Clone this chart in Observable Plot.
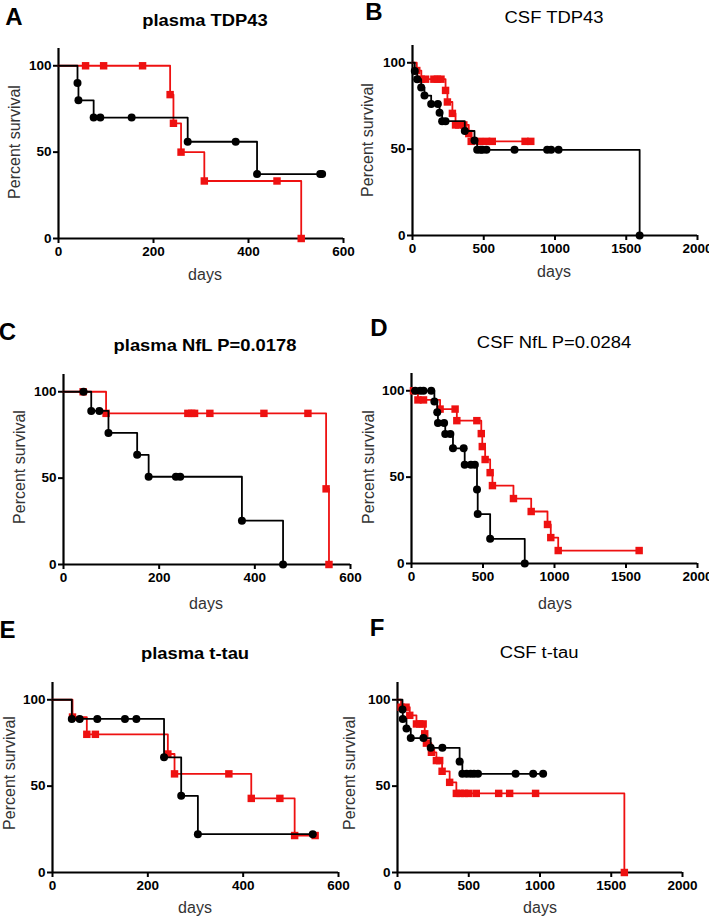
<!DOCTYPE html>
<html><head><meta charset="utf-8">
<script src="https://cdn.jsdelivr.net/npm/d3@7"></script>
<script src="https://cdn.jsdelivr.net/npm/@observablehq/plot@0.6"></script>
<style>
body{margin:0;background:#fff;}
#wrap{position:relative;width:709px;height:917px;overflow:hidden;font-family:"Liberation Sans",Arial,sans-serif;}
#wrap svg{position:absolute;background:transparent;}
.t{position:absolute;white-space:nowrap;line-height:1;transform-origin:center center;}
.letter{font-weight:bold;font-size:24px;color:#000;}
.title{font-size:17px;color:#000;}
.lab{font-size:16px;color:#333;}
</style></head>
<body><div id="wrap"></div>
<script>
// ---- data (days, percent survival at each plotted symbol) ----
const yTicks = [0, 50, 100];
const xTicksPlasma = [0, 200, 400, 600];
const xTicksCSF = [0, 500, 1000, 1500, 2000];
const panelLetters = ["A", "B", "C", "D", "E", "F"];
const panelTitles = ["plasma TDP43", "CSF TDP43", "plasma NfL P=0.0178", "CSF NfL P=0.0284", "plasma t-tau", "CSF t-tau"];
const xLabel = "days";
const yLabel = "Percent survival";

// A plasma TDP43
const aBlackT = [40, 42, 74, 88, 154, 272, 373, 418, 551, 555];
const aBlackS = [90, 80, 70, 70, 70, 56, 56, 37.3, 37.3, 37.3];
const aRedT = [57, 95, 177, 235, 242, 258, 307, 460, 511];
const aRedS = [100, 100, 100, 83.3, 66.7, 50, 33.3, 33.3, 0];
// B CSF TDP43
const bBlackT = [16, 33, 61, 84, 131, 178, 190, 208, 232, 367, 435, 454, 477, 491, 519, 716, 945, 973, 1025, 1594];
const bBlackS = [95.2, 90.5, 85.7, 81, 76.2, 76.2, 71.1, 66.2, 66.2, 60.5, 55, 49.6, 49.6, 49.6, 49.6, 49.6, 49.6, 49.6, 49.6, 0];
const bRedT = [30, 62, 92, 150, 175, 200, 232, 245, 280, 302, 325, 360, 395, 412, 470, 520, 560, 790, 830];
const bRedS = [95.5, 90.5, 90.5, 90.5, 90.5, 90.5, 84, 77.3, 70.7, 64, 64, 64, 59, 54.5, 54.5, 54.5, 54.5, 54.5, 54.5];
// C plasma NfL
const cBlackT = [42, 58, 75, 94, 154, 178, 235, 244, 373, 459];
const cBlackS = [100, 88.9, 88.9, 76.2, 63.5, 50.8, 50.8, 50.8, 25.4, 0];
const cRedT = [41, 89, 260, 268, 274, 306, 419, 511, 549, 555];
const cRedS = [100, 87.5, 87.5, 87.5, 87.5, 87.5, 87.5, 87.5, 43.8, 0];
// D CSF NfL
const dBlackT = [26, 61, 84, 138, 160, 180, 185, 228, 236, 272, 290, 365, 372, 415, 443, 458, 463, 550, 792];
const dBlackS = [100, 100, 100, 100, 93.8, 87.5, 81.3, 81.3, 75, 75, 66.7, 66.7, 57.1, 57.1, 57.1, 42.9, 28.6, 14.3, 0];
const dRedT = [14, 45, 84, 200, 305, 317, 457, 488, 495, 515, 550, 566, 713, 837, 951, 974, 1026, 1592];
const dRedS = [100, 94.7, 94.7, 89.4, 89.4, 82.7, 82.7, 75.2, 67.7, 60.2, 52.6, 45.1, 37.6, 30.1, 22.6, 15, 7.5, 7.5];
// E plasma t-tau
const eBlackT = [40.5, 57, 94, 152, 176, 234, 270, 305, 546];
const eBlackS = [88.9, 88.9, 88.9, 88.9, 88.9, 66.7, 44.4, 22.2, 22.2];
const eRedT = [42, 72, 90, 242, 256, 370, 417, 477, 508, 551];
const eRedS = [90, 80, 80, 68.6, 57.1, 57.1, 42.9, 42.9, 21.4, 21.4];
// F CSF t-tau
const fBlackT = [35, 37, 63, 93, 182, 233, 315, 436, 455, 485, 513, 537, 565, 829, 952, 1022];
const fBlackS = [94.4, 88.9, 83.3, 77.8, 77.8, 72.2, 72.2, 64.2, 57.1, 57.1, 57.1, 57.1, 57.1, 57.1, 57.1, 57.1];
const fRedT = [25, 60, 86, 133, 156, 180, 191, 203, 238, 273, 296, 313, 366, 413, 440, 470, 500, 553, 710, 787, 969, 1592];
const fRedS = [95.7, 95.7, 91, 86, 86, 86, 80.3, 74.9, 69.6, 64.8, 64.8, 58.6, 52.2, 45.8, 45.8, 45.8, 45.8, 45.8, 45.8, 45.8, 45.8, 0];

// ---- layout ----
const RED = "#ee1111";
const ML = 50, MR = 15, MT = 10, MB = 30, PH = 190;
const series = [
  [aBlackT, aBlackS, aRedT, aRedS], [bBlackT, bBlackS, bRedT, bRedS],
  [cBlackT, cBlackS, cRedT, cRedS], [dBlackT, dBlackS, dRedT, dRedS],
  [eBlackT, eBlackS, eRedT, eRedS], [fBlackT, fBlackS, fRedT, fRedS]
];
const layout = [
  {ax: 58, ay: 238, pw: 285, csf: false, letter: [14, 16.5], title: [205, 20], days: [205, 275], ylab: [15, 142]},
  {ax: 412, ay: 235, pw: 285, csf: true, letter: [374, 12], title: [554, 18], days: [554, 272], ylab: [368, 140]},
  {ax: 63, ay: 564, pw: 287, csf: false, letter: [7.5, 332], title: [205, 345], days: [206, 604], ylab: [20, 467]},
  {ax: 411, ay: 563, pw: 286, csf: true, letter: [379, 328], title: [554, 343], days: [555, 604], ylab: [369, 467]},
  {ax: 52, ay: 872, pw: 286, csf: false, letter: [7.5, 630], title: [195, 653], days: [195, 908], ylab: [10, 773]},
  {ax: 397, ay: 872, pw: 285, csf: true, letter: [377, 628], title: [539, 653], days: [540, 908], ylab: [350, 773]}
];

const wrap = document.getElementById("wrap");
function addText(txt, cls, [x, y], extra) {
  const d = document.createElement("div");
  d.className = "t " + cls;
  d.textContent = txt;
  d.style.left = x + "px"; d.style.top = y + "px";
  d.style.transform = "translate(-50%,-50%)" + (extra || "");
  wrap.appendChild(d);
  return d;
}

layout.forEach((L, i) => {
  const [bT, bS, rT, rS] = series[i];
  const pts = (T, S) => T.map((t, j) => ({t, s: S[j]}));
  const black = pts(bT, bS), red = pts(rT, rS);
  const start = {t: 0, s: 100};
  const xmax = L.csf ? xTicksCSF[xTicksCSF.length - 1] : xTicksPlasma[xTicksPlasma.length - 1];
  const svg = Plot.plot({
    width: ML + L.pw + MR, height: MT + PH + MB,
    marginLeft: ML, marginRight: MR, marginTop: MT, marginBottom: MB,
    x: {domain: [0, xmax]},
    y: {domain: [0, 110]},
    style: {fontFamily: "'Liberation Sans', Arial, sans-serif", color: "#000", background: "transparent", overflow: "visible"},
    marks: [
      Plot.axisY({ticks: yTicks, tickSize: 5, tickPadding: 2, tickFormat: "d", fontSize: 13.5, fontWeight: "bold", strokeWidth: 2, label: null}),
      Plot.axisX({ticks: L.csf ? xTicksCSF : xTicksPlasma, tickSize: 5, tickPadding: 3, tickFormat: "d", fontSize: 13.5, fontWeight: "bold", strokeWidth: 2, label: null}),
      Plot.ruleX([0], {strokeWidth: 2.2}),
      Plot.ruleY([0], {strokeWidth: 2.2}),
      Plot.line([start, ...red], {x: "t", y: "s", curve: "step-after", stroke: RED, strokeWidth: 1.8}),
      Plot.dot(red, {x: "t", y: "s", symbol: "square", r: 4.2, fill: RED, stroke: "none"}),
      Plot.line([start, ...black], {x: "t", y: "s", curve: "step-after", stroke: "#000", strokeWidth: 1.8}),
      Plot.dot(black, {x: "t", y: "s", r: 4, fill: "#000", stroke: "none"})
    ]
  });
  svg.style.left = (L.ax - ML) + "px";
  svg.style.top = (L.ay - PH - MT) + "px";
  wrap.appendChild(svg);

  addText(panelLetters[i], "letter", L.letter);
  const tt = addText(panelTitles[i], "title", L.title, L.csf ? " scaleX(1.15)" : " scaleX(1.08)");
  tt.style.fontWeight = L.csf ? "normal" : "bold";
  tt.style.fontSize = L.csf ? "16px" : "17px";
  addText(xLabel, "lab", L.days);
  addText(yLabel, "lab", L.ylab, " rotate(-90deg)");
});
</script>
</body></html>
